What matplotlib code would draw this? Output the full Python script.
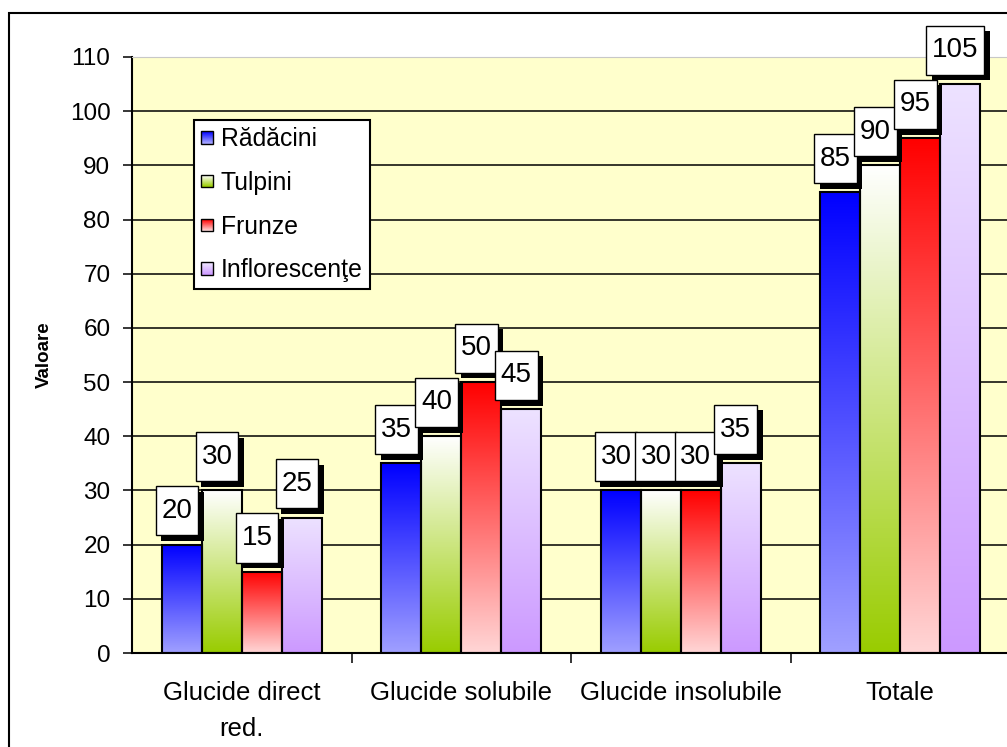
import numpy as np
import matplotlib
matplotlib.use("Agg")
import matplotlib.pyplot as plt
from matplotlib.patches import Rectangle
from matplotlib.legend_handler import HandlerBase
import matplotlib.patheffects as pe

# ---- data ----
CATEGORIES = ["Glucide direct\nred.", "Glucide solubile", "Glucide insolubile", "Totale"]
SERIES = ["Rădăcini", "Tulpini", "Frunze", "Inflorescenţe"]
RADACINI = [20, 35, 30, 85]
TULPINI = [30, 40, 30, 90]
FRUNZE = [15, 50, 30, 95]
INFLORESCENTE = [25, 45, 35, 105]
YTICKS = list(range(0, 111, 10))

# vertical gradients (top colour, bottom colour) per series
GRADIENTS = [
    ("#0000FF", "#A0A0FF"),
    ("#FFFFFF", "#99CC00"),
    ("#FF0000", "#FFD6D6"),
    ("#EDE2FF", "#CC99FF"),
]
PLOT_BG = "#FFFFCC"
BAR_W = 0.182

plt.rcParams["font.family"] = ["Liberation Sans", "DejaVu Sans"]


def hex_rgb(h):
    return np.array([int(h[i:i + 2], 16) for i in (1, 3, 5)]) / 255.0


def gradient_column(top, bottom, n=256):
    t = np.linspace(0, 1, n)[:, None]          # 0 = bottom row (origin lower)
    return (hex_rgb(bottom) * (1 - t) + hex_rgb(top) * t)[:, None, :]


class GradientHandler(HandlerBase):
    def __init__(self, top, bottom, steps=12):
        super().__init__()
        self.top, self.bottom, self.steps = top, bottom, steps

    def create_artists(self, legend, orig_handle, xdescent, ydescent,
                       width, height, fontsize, trans):
        side = min(width, height)
        x0, y0 = -xdescent, -ydescent + (height - side) / 2
        arts = []
        cols = gradient_column(self.top, self.bottom, self.steps)[:, 0, :]
        dh = side / self.steps
        for i, c in enumerate(cols):
            arts.append(Rectangle((x0, y0 + i * dh), side, dh * 1.05,
                                  facecolor=c, edgecolor="none", transform=trans))
        arts.append(Rectangle((x0, y0), side, side, facecolor="none",
                              edgecolor="black", lw=1.0, transform=trans))
        return arts


fig = plt.figure(figsize=(10.07, 7.47), dpi=100)
ax = fig.add_axes([0.1311, 0.1258, 0.8719, 0.7979])
ax.set_facecolor(PLOT_BG)

values = [RADACINI, TULPINI, FRUNZE, INFLORESCENTE]
x = np.arange(len(CATEGORIES))
offsets = (np.arange(len(SERIES)) - 1.5) * BAR_W

handles = []
for s, (vals, (top, bot)) in enumerate(zip(values, GRADIENTS)):
    grad = gradient_column(top, bot)
    for xi, v in zip(x, vals):
        left = xi + offsets[s] - BAR_W / 2
        ax.imshow(grad, extent=[left, left + BAR_W, 0, v], origin="lower",
                  aspect="auto", interpolation="bilinear", zorder=2)
        ax.add_patch(Rectangle((left, 0), BAR_W, v, facecolor="none",
                               edgecolor="black", lw=1.5, zorder=3))
        t = ax.annotate(str(v), xy=(xi + offsets[s], v), xytext=(-3.5, 15),
                        textcoords="offset points", ha="center", va="bottom",
                        fontsize=20, zorder=5,
                        bbox=dict(boxstyle="square,pad=0.21", mutation_aspect=2.0,
                                  facecolor="white", edgecolor="black", lw=1.0))
        t.get_bbox_patch().set_path_effects(
            [pe.SimplePatchShadow(offset=(4, -4), shadow_rgbFace="black", alpha=1.0),
             pe.Normal()])
    handles.append(Rectangle((0, 0), 1, 1))

ax.set_xlim(-0.5, len(CATEGORIES) - 0.5)
ax.set_ylim(0, 110)

# horizontal grid
ax.set_yticks(YTICKS)
ax.yaxis.grid(True, color="black", lw=1.1, zorder=1)
ax.set_axisbelow(True)
ax.get_ygridlines()[-1].set_visible(False)
ax.get_ygridlines()[0].set_visible(False)
ax.tick_params(axis="y", direction="out", length=6.5, width=1.1, pad=9, labelsize=17.5)

# category labels centred, tick marks between groups
ax.set_xticks(x)
ax.set_xticklabels(CATEGORIES, fontsize=18.5, linespacing=1.65)
ax.tick_params(axis="x", which="major", length=0, pad=20)
ax.set_xticks(x[:-1] + 0.5, minor=True)
ax.tick_params(axis="x", which="minor", direction="out", length=7, width=1.1)

for side in ("left", "bottom"):
    ax.spines[side].set_linewidth(1.5)
ax.spines["top"].set_color("#C8C8C8")
ax.spines["right"].set_visible(False)

ax.set_ylabel("Valoare", fontsize=13.5, fontweight="bold")
ax.yaxis.set_label_coords(-0.09, 0.5)

leg = ax.legend(handles, SERIES, loc="upper left", bbox_to_anchor=(0.0706, 0.894),
                borderaxespad=0, fontsize=17.8, frameon=True, fancybox=False,
                edgecolor="black", framealpha=1, handlelength=0.5,
                handleheight=0.5, handletextpad=0.3, labelspacing=0.8,
                borderpad=0.28,
                handler_map={h: GradientHandler(*g) for h, g in zip(handles, GRADIENTS)})
leg.get_frame().set_linewidth(1.5)
leg.set_zorder(6)

# outer chart border
fig.patches.append(Rectangle((9 / 1007, -0.1), 1.2, (747 - 13) / 747 + 0.1,
                             transform=fig.transFigure, fill=False,
                             edgecolor="black", lw=1.5, clip_on=False))

fig.savefig("out.png", dpi=100)
